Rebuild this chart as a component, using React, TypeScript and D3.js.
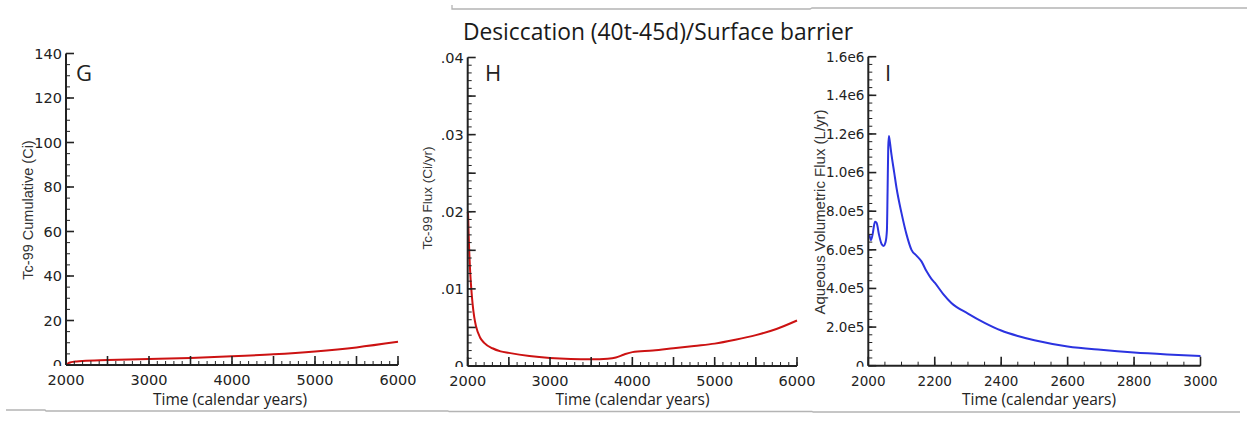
import React from "react";
import * as d3 from "d3";

// ---------- data ----------
const titleText = "Desiccation (40t-45d)/Surface barrier";
const xAxisTitle = "Time (calendar years)";

// Panel G : Tc-99 cumulative (Ci)
const gYears = [2000, 2015, 2030, 2050, 2080, 2130, 2200, 2500, 3000, 3500, 4000, 4500, 5000, 5500, 6000];
const gCumulative = [0, 0.5, 0.8, 1.1, 1.4, 1.6, 1.8, 2.2, 2.7, 3.2, 3.9, 4.8, 6.1, 7.9, 10.4];
const gYTickLabels = [0, 20, 40, 60, 80, 100, 120, 140];
const gXTickLabels = [2000, 3000, 4000, 5000, 6000];

// Panel H : Tc-99 flux (Ci/yr)
const hYears = [2000, 2005, 2010, 2020, 2030, 2045, 2060, 2080, 2100, 2150, 2200, 2300, 2400, 2500, 2750, 3000, 3250, 3500, 3700, 3800, 3900, 4000, 4250, 4500, 4750, 5000, 5250, 5500, 5750, 6000];
const hFlux = [0.02, 0.0195, 0.0175, 0.0145, 0.0122, 0.0098, 0.0080, 0.0063, 0.0052, 0.0037, 0.0030, 0.0023, 0.0019, 0.0017, 0.0013, 0.00105, 0.00092, 0.00088, 0.00095, 0.0011, 0.0015, 0.0018, 0.0020, 0.0023, 0.0026, 0.0029, 0.0034, 0.0040, 0.0048, 0.0059];
const hYTickValues = [0, 0.01, 0.02, 0.03, 0.04];
const hYTickLabels = ["0", ".01", ".02", ".03", ".04"];
const hXTickLabels = [2000, 3000, 4000, 5000, 6000];

// Panel I : Aqueous volumetric flux (L/yr)
const iYears = [2003, 2008, 2013, 2020, 2025, 2032, 2040, 2046, 2052, 2056, 2058, 2060, 2062, 2064, 2070, 2078, 2085, 2100, 2115, 2130, 2145, 2160, 2175, 2190, 2200, 2225, 2250, 2300, 2350, 2400, 2450, 2500, 2600, 2700, 2800, 2900, 3000];
const iFlux = [680000, 650000, 680000, 745000, 740000, 680000, 630000, 620000, 640000, 700000, 900000, 1130000, 1190000, 1170000, 1090000, 1000000, 920000, 790000, 680000, 600000, 570000, 540000, 490000, 450000, 430000, 372000, 325000, 270000, 222000, 182000, 154000, 132000, 100000, 82000, 68000, 58000, 50000];
const iYTickValues = [0, 200000, 400000, 600000, 800000, 1000000, 1200000, 1400000, 1600000];
const iYTickLabels = ["0", "2.0e5", "4.0e5", "6.0e5", "8.0e5", "1.0e6", "1.2e6", "1.4e6", "1.6e6"];
const iXTickLabels = [2000, 2200, 2400, 2600, 2800, 3000];

type PanelProps = {
  id: string;
  letter: string;
  letterX: number;
  xs: number[];
  ys: number[];
  xDomain: [number, number];
  yDomain: [number, number];
  x0: number; x1: number; yTop: number; yBot: number;
  xMajorStep: number; xMinorStep: number; xLabels: number[];
  yMajorStep: number; yMinorStep: number; yLabelValues: number[]; yLabelTexts: string[];
  tickFont: number; xTickFont: number;
  yTitle: string; yTitleX: number; yTitleY: number; yTitleSize: number;
  xTitleX: number;
  color: string;
};

function Panel(p: PanelProps) {
  const x = d3.scaleLinear().domain(p.xDomain).range([p.x0, p.x1]);
  const y = d3.scaleLinear().domain(p.yDomain).range([p.yBot, p.yTop]);
  const eps = 1e-9;
  const xMinor = d3.range(p.xDomain[0], p.xDomain[1] + eps, p.xMinorStep);
  const xMajor = d3.range(p.xDomain[0], p.xDomain[1] + eps, p.xMajorStep);
  const yMinor = d3.range(p.yDomain[0], p.yDomain[1] + p.yMinorStep / 2, p.yMinorStep);
  const yMajor = d3.range(p.yDomain[0], p.yDomain[1] + p.yMajorStep / 2, p.yMajorStep);
  const line = d3
    .line<number>()
    .x((_, i) => x(p.xs[i]))
    .y((d) => y(d))
    .curve(d3.curveMonotoneX);
  const axisColor = "#222";
  return (
    <g>
      <defs>
        <clipPath id={`clip-${p.id}`}>
          <rect x={0} y={0} width={1251} height={p.yBot + 1} />
        </clipPath>
      </defs>
      {/* data line */}
      <path d={line(p.ys) || ""} fill="none" stroke={p.color} strokeWidth={2} strokeLinejoin="round" />
      {/* axes */}
      <line x1={p.x0} x2={p.x0} y1={p.yTop} y2={p.yBot} stroke={axisColor} strokeWidth={2} />
      <line x1={p.x0} x2={p.x1} y1={p.yBot} y2={p.yBot} stroke={axisColor} strokeWidth={2} />
      {yMinor.map((v, i) => (
        <line key={`ym${i}`} x1={p.x0} x2={p.x0 + 4} y1={y(v)} y2={y(v)} stroke={axisColor} strokeWidth={1} />
      ))}
      {yMajor.map((v, i) => (
        <line key={`yM${i}`} x1={p.x0} x2={p.x0 + 8} y1={y(v)} y2={y(v)} stroke={axisColor} strokeWidth={1.6} />
      ))}
      {xMinor.map((v, i) => (
        <line key={`xm${i}`} x1={x(v)} x2={x(v)} y1={p.yBot} y2={p.yBot - 4} stroke={axisColor} strokeWidth={1} />
      ))}
      {xMajor.map((v, i) => (
        <line key={`xM${i}`} x1={x(v)} x2={x(v)} y1={p.yBot} y2={p.yBot - 9} stroke={axisColor} strokeWidth={1.6} />
      ))}
      <g clipPath={`url(#clip-${p.id})`}>
        {p.yLabelValues.map((v, i) => (
          <text
            key={`yl${i}`}
            x={p.x0 - 4}
            y={y(v)}
            dy="0.36em"
            textAnchor="end"
            fontFamily="DejaVu Sans"
            fontSize={p.tickFont}
            fill="#222"
          >
            {p.yLabelTexts[i]}
          </text>
        ))}
      </g>
      {p.xLabels.map((v, i) => (
        <text
          key={`xl${i}`}
          x={x(v)}
          y={p.yBot + 20}
          textAnchor="middle"
          fontFamily="DejaVu Sans"
          fontSize={p.xTickFont}
          fill="#222"
        >
          {v}
        </text>
      ))}
      <text
        x={p.xTitleX}
        y={405}
        textAnchor="middle"
        fontFamily="Open Sans"
        fontSize={15.5}
        fill="#222"
      >
        {xAxisTitle}
      </text>
      <text
        transform={`translate(${p.yTitleX},${p.yTitleY}) rotate(-90)`}
        textAnchor="middle"
        dy="0.35em"
        fontFamily="Liberation Sans"
        fontSize={p.yTitleSize}
        fill="#333"
      >
        {p.yTitle}
      </text>
      <text x={p.letterX} y={81} fontFamily="Open Sans" fontSize={22} fill="#222">
        {p.letter}
      </text>
    </g>
  );
}

export default function App() {
  return (
    <svg width={1251} height={423} style={{ display: "block", position: "absolute", left: 0, top: 0, background: "#fff" }}>
      <rect x={0} y={0} width={1251} height={423} fill="#fff" />
      {/* decorative frame lines */}
      <path d="M452,5 L452,9 L810,9 L812,8 L1247,8" fill="none" stroke="#b4b4b4" strokeWidth={1.3} />
      <path d="M6,410 L45,410 L46,411 L448,411 L449,411.5 L812,411.5 L813,412 L1240,412" fill="none" stroke="#b4b4b4" strokeWidth={1.3} />
      <text x={658} y={40} textAnchor="middle" fontFamily="Open Sans" fontSize={22.8} fill="#1a1a1a">
        {titleText}
      </text>
      <Panel
        id="g" letter="G" letterX={76}
        xs={gYears} ys={gCumulative}
        xDomain={[2000, 6000]} yDomain={[0, 140]}
        x0={66} x1={398} yTop={53.5} yBot={365}
        xMajorStep={500} xMinorStep={100} xLabels={gXTickLabels}
        yMajorStep={20} yMinorStep={5} yLabelValues={gYTickLabels} yLabelTexts={gYTickLabels.map(String)}
        tickFont={14.5} xTickFont={14.5}
        yTitle="Tc-99 Cumulative (Ci)" yTitleX={27.5} yTitleY={210} yTitleSize={14.5}
        xTitleX={230}
        color="#cc1212"
      />
      <Panel
        id="h" letter="H" letterX={485}
        xs={hYears} ys={hFlux}
        xDomain={[2000, 6000]} yDomain={[0, 0.04]}
        x0={467.7} x1={797} yTop={57.5} yBot={366}
        xMajorStep={500} xMinorStep={100} xLabels={hXTickLabels}
        yMajorStep={0.005} yMinorStep={0.001} yLabelValues={hYTickValues} yLabelTexts={hYTickLabels}
        tickFont={14.5} xTickFont={14.5}
        yTitle="Tc-99 Flux (Ci/yr)" yTitleX={427.5} yTitleY={198} yTitleSize={13.5}
        xTitleX={632.5}
        color="#cc1212"
      />
      <Panel
        id="i" letter="I" letterX={885}
        xs={iYears} ys={iFlux}
        xDomain={[2000, 3000]} yDomain={[0, 1600000]}
        x0={868.3} x1={1200.5} yTop={56.7} yBot={365.7}
        xMajorStep={200} xMinorStep={50} xLabels={iXTickLabels}
        yMajorStep={200000} yMinorStep={40000} yLabelValues={iYTickValues} yLabelTexts={iYTickLabels}
        tickFont={13.5} xTickFont={13.5}
        yTitle="Aqueous Volumetric Flux (L/yr)" yTitleX={820} yTitleY={212} yTitleSize={15}
        xTitleX={1039}
        color="#2b33e0"
      />
    </svg>
  );
}
